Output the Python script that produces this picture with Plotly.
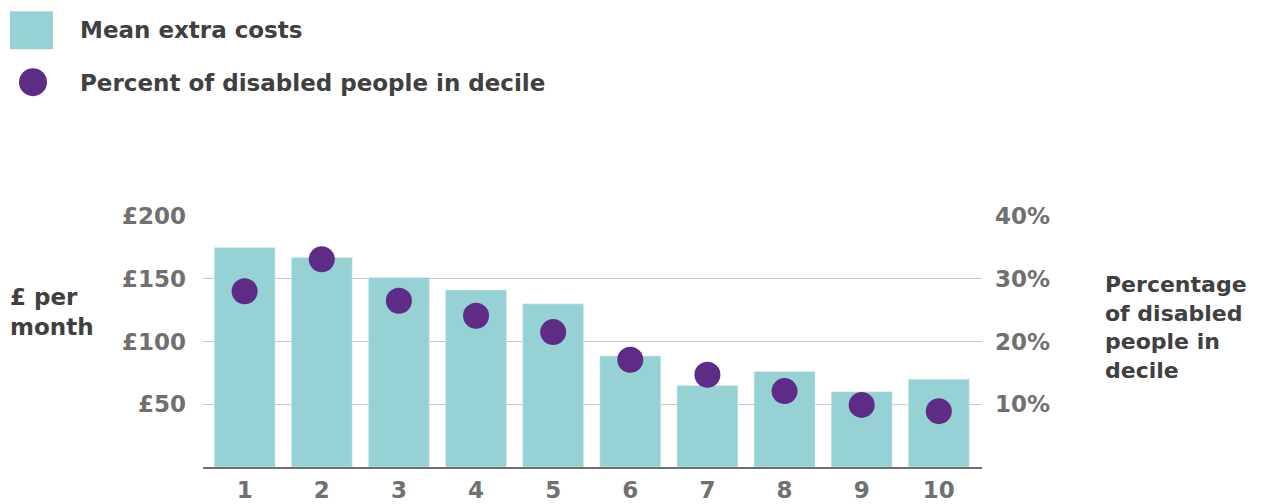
import plotly.graph_objects as go

deciles = [1, 2, 3, 4, 5, 6, 7, 8, 9, 10]
mean_extra_costs = [175, 167, 151, 141, 130, 88.5, 65, 76, 60, 70]
percent_disabled = [28.0, 33.1, 26.5, 24.1, 21.5, 17.1, 14.7, 12.1, 9.9, 8.9]
left_ticks = [50, 100, 150, 200]
left_tick_labels = ["£50", "£100", "£150", "£200"]
right_ticks = [10, 20, 30, 40]
right_tick_labels = ["10%", "20%", "30%", "40%"]

TEAL = "#96d2d4"
PURPLE = "#5e2c86"
DARK = "#404040"
GREY = "#707070"
FONT = "DejaVu Sans"

OFF = 8  # page body margin
W, H = 1275 - OFF, 504 - OFF
# plot area in reference page pixels
L, R, T, B = 203, 982, 216, 467.3

def px(x):
    return (x - L) / (R - L)

def py(y):
    return (B - y) / (B - T)

fig = go.Figure()
fig.add_trace(go.Bar(x=deciles, y=mean_extra_costs, marker_color=TEAL, width=0.79,
                     name="Mean extra costs", showlegend=False, yaxis="y"))
fig.add_trace(go.Scatter(x=deciles, y=percent_disabled, mode="markers",
                         marker=dict(color=PURPLE, size=26), name="Percent of disabled people in decile",
                         showlegend=False, yaxis="y2"))

annotations = []
def txt(text, x, y, size, color=DARK):
    annotations.append(dict(text=text, x=px(x), y=py(y), xref="paper", yref="paper",
                            xanchor="left", yanchor="middle", align="left", showarrow=False,
                            font=dict(family=FONT, size=size, color=color, weight=700)))

txt("Mean extra costs", 78, 30, 23)
txt("Percent of disabled people in decile", 78, 83, 23)
txt("£ per<br>month", 8, 312, 23)
txt("Percentage<br>of disabled<br>people in<br>decile", 1103, 327.5, 22)

shapes = [
    dict(type="rect", xref="paper", yref="paper", x0=px(10), x1=px(53), y0=py(49), y1=py(11),
         fillcolor=TEAL, line=dict(width=0)),
    dict(type="circle", xref="paper", yref="paper", x0=px(19), x1=px(47), y0=py(96), y1=py(68),
         fillcolor=PURPLE, line=dict(width=0)),
]

tickfont = dict(family=FONT, size=23, color=GREY, weight=700)
fig.update_layout(
    width=W, height=H,
    margin=dict(l=L - OFF, r=W - (R - OFF), t=T - OFF, b=H - (B - OFF), pad=0),
    paper_bgcolor="white", plot_bgcolor="white",
    annotations=annotations, shapes=shapes,
    xaxis=dict(range=[0.46, 10.56], tickvals=deciles, ticktext=[str(d) for d in deciles],
               showgrid=False, showline=True, linecolor="#6f6f6f", linewidth=2, ticks="",
               tickfont=tickfont, zeroline=False, ticklabelstandoff=1, automargin=False),
    yaxis=dict(range=[0, 200], tickvals=left_ticks, ticktext=left_tick_labels,
               showgrid=True, gridcolor="#c8c8c8", gridwidth=1, zeroline=False, showline=False,
               tickfont=tickfont, ticklabelstandoff=16, automargin=False),
    yaxis2=dict(range=[0, 40], tickvals=right_ticks, ticktext=right_tick_labels, overlaying="y",
                side="right", showgrid=False, zeroline=False, showline=False,
                tickfont=tickfont, ticklabelstandoff=12, automargin=False),
)

fig.write_html("out.html")
